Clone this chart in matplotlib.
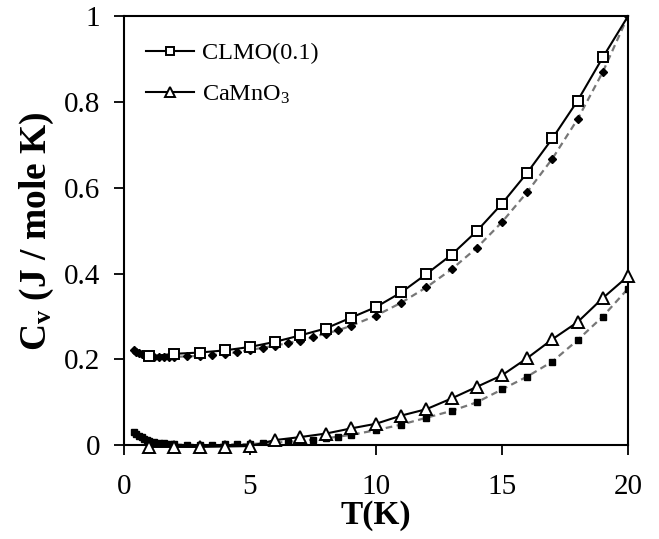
"""
Specific heat Cv(T) of CLMO(0.1) and CaMnO3 at low temperature:
fitted curves (open markers, solid line) and measured data (filled markers, dashed line)
"""

import numpy as np
from matplotlib import pyplot as plt

plt.rcParams['font.family'] = ['Liberation Serif', 'DejaVu Serif']
plt.rcParams['mathtext.fontset'] = 'custom'
plt.rcParams['mathtext.rm'] = 'Liberation Serif'
plt.rcParams['mathtext.it'] = 'Liberation Serif:italic'
plt.rcParams['mathtext.bf'] = 'Liberation Serif:bold'

# fitted curves
t_fit = [1, 2, 3, 4, 5, 6, 7, 8, 9, 10, 11, 12, 13, 14, 15, 16, 17, 18, 19, 20]
cv_clmo_fit = [0.207, 0.213, 0.216, 0.221, 0.229, 0.241, 0.256, 0.272, 0.297, 0.322,
               0.356, 0.399, 0.444, 0.499, 0.563, 0.635, 0.715, 0.803, 0.904, 1.0]
cv_camno_fit = [-0.004, -0.004, -0.004, -0.003, -0.002, 0.012, 0.019, 0.027, 0.039, 0.05,
                0.069, 0.084, 0.109, 0.136, 0.163, 0.203, 0.247, 0.287, 0.343, 0.394]

# measured data
t_exp = [0.4, 0.5, 0.6, 0.7, 0.8, 0.9, 1.0, 1.2, 1.4, 1.6, 1.8, 2.0, 2.5, 3.0, 3.5,
         4.0, 4.5, 5.0, 5.5, 6.0, 6.5, 7.0, 7.5, 8.0, 8.5, 9.0, 10, 11, 12, 13, 14,
         15, 16, 17, 18, 19, 20]
cv_clmo_exp = [0.222, 0.218, 0.215, 0.212, 0.210, 0.208, 0.207, 0.206, 0.205, 0.205,
               0.205, 0.206, 0.207, 0.208, 0.210, 0.213, 0.217, 0.222, 0.227, 0.232,
               0.238, 0.244, 0.252, 0.260, 0.268, 0.278, 0.302, 0.332, 0.368, 0.410,
               0.460, 0.520, 0.590, 0.668, 0.760, 0.870, 1.0]
cv_camno_exp = [0.030, 0.026, 0.022, 0.018, 0.015, 0.012, 0.010, 0.007, 0.005, 0.004,
                0.003, 0.002, 0.001, 0.001, 0.001, 0.002, 0.002, 0.003, 0.004, 0.006,
                0.008, 0.010, 0.013, 0.016, 0.020, 0.024, 0.035, 0.048, 0.064, 0.080,
                0.100, 0.130, 0.160, 0.195, 0.245, 0.300, 0.365]


def main():
    fig, ax = plt.subplots(figsize=(6.59, 5.39), dpi=100)
    fig.subplots_adjust(left=0.188, right=0.953, bottom=0.174, top=0.970)

    # measured points
    ax.plot(t_exp, cv_clmo_exp, color='#777777', ls=(0, (3, 2)), lw=1.6, zorder=2)
    ax.plot(t_exp, cv_clmo_exp, ls='none', marker='D', ms=4.5, color='black', zorder=2)
    ax.plot(t_exp, cv_camno_exp, color='#777777', ls=(0, (3, 2)), lw=1.6, zorder=2)
    ax.plot(t_exp, cv_camno_exp, ls='none', marker='s', ms=4.5, color='black', zorder=2)

    # fitted curves
    ax.plot(t_fit, cv_clmo_fit, color='black', lw=1.5, marker='s', ms=7.5,
            mfc='white', mew=1.4, markevery=slice(0, 19), zorder=3, clip_on=False,
            label='CLMO(0.1)')
    ax.plot(t_fit, cv_camno_fit, color='black', lw=1.5, marker='^', ms=8.5,
            mfc='white', mew=1.4, zorder=3, clip_on=False, label=r'CaMnO$_3$')

    ax.set_xlim(0, 20)
    ax.set_ylim(0, 1)
    ax.set_xticks([0, 5, 10, 15, 20])
    ax.set_yticks([0, 0.2, 0.4, 0.6, 0.8, 1])
    ax.set_yticklabels(['0', '0.2', '0.4', '0.6', '0.8', '1'])
    ax.tick_params(axis='both', direction='out', length=7, width=1.3, labelsize=21)
    ax.tick_params(axis='x', pad=14)
    ax.tick_params(axis='y', pad=10)
    for sp in ax.spines.values():
        sp.set_linewidth(1.5)

    ax.set_xlabel('T(K)', fontsize=24, fontweight='bold', labelpad=0)
    ax.set_ylabel(r'C$_\mathbf{v}$ (J / mole K)', fontsize=27, fontweight='bold', labelpad=6)

    leg = ax.legend(loc='upper left', bbox_to_anchor=(0.0, 0.99), frameon=False,
                    fontsize=17.5, handlelength=2.0, labelspacing=0.8, handletextpad=0.3,
                    markerscale=0.8)
    for mark in leg.legend_handles:
        mark.set_clip_on(False)

    fig.savefig('out.png', dpi=100)


if __name__ == "__main__":
    main()
